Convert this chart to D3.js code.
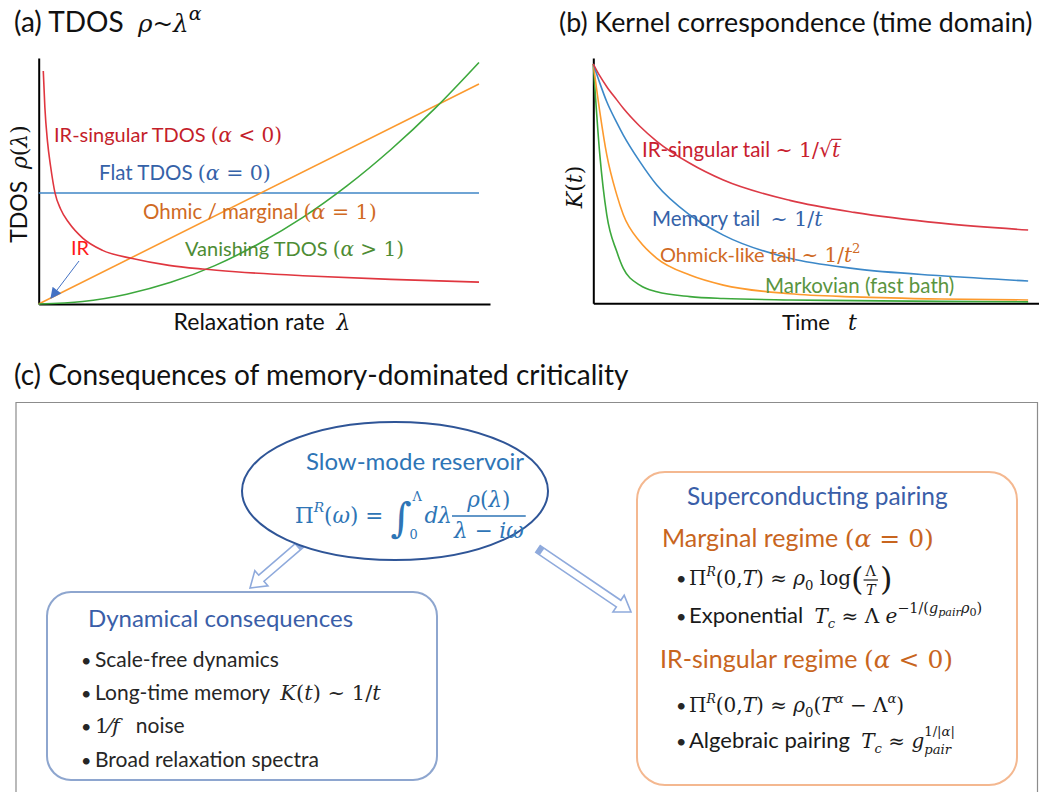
<!DOCTYPE html>
<html lang="en">
<head>
<meta charset="UTF-8">
<title>TDOS and memory-dominated criticality</title>
<script src="https://d3js.org/d3.v7.min.js"></script>
<style>
  html, body { margin: 0; padding: 0; background: #fff; }
  svg { display: block; }
  .axis path { stroke: #000; stroke-width: 2px; }
</style>
</head>
<body>
<svg id="fig" width="1039" height="792"></svg>
<script>
// ---- panel (a): TDOS curves ----
const lambdaIR = [0.0104, 0.014, 0.02, 0.027, 0.037, 0.05, 0.069, 0.1, 0.145, 0.213, 0.296, 0.372, 0.447, 0.6, 0.8, 1.0];
const rhoIR    = [0.947, 0.80, 0.66, 0.56, 0.452, 0.385, 0.329, 0.268, 0.218, 0.185, 0.157, 0.142, 0.131, 0.115, 0.10, 0.089];
const lambdaGrid = [0, 0.1, 0.2, 0.3, 0.4, 0.5, 0.6, 0.7, 0.8, 0.9, 1.0];
const rhoVanishing = [0, 0.01, 0.04, 0.088, 0.156, 0.245, 0.352, 0.48, 0.628, 0.795, 0.982];
const lambdaEnds = [0, 1];
const rhoOhmic = [0, 0.894];
const rhoFlat = [0.451, 0.451];

// ---- panel (b): kernels K(t) ----
const tGrid   = [0, 0.015, 0.031, 0.054, 0.069, 0.107, 0.146, 0.222, 0.299, 0.452, 0.6, 0.8, 1.0];
const kIR     = [1, 0.95, 0.905, 0.85, 0.815, 0.74, 0.677, 0.585, 0.515, 0.43, 0.38, 0.335, 0.306];
const kMemory = [1, 0.92, 0.842, 0.755, 0.703, 0.592, 0.494, 0.369, 0.285, 0.188, 0.145, 0.115, 0.093];
const kOhmic  = [1, 0.80, 0.62, 0.453, 0.37, 0.258, 0.188, 0.118, 0.076, 0.040, 0.027, 0.018, 0.014];
const kMarkov = [1, 0.62, 0.369, 0.216, 0.146, 0.076, 0.048, 0.028, 0.02, 0.014, 0.011, 0.008, 0.006];

// ---- panel (c) text ----
const dynItems = ["Scale-free dynamics", "Long-time memory", "noise", "Broad relaxation spectra"];

const FT = "Lato, 'Open Sans', sans-serif";
const FM = "'DejaVu Serif', 'Liberation Serif', serif";

const svg = d3.select("#fig");

// text pieces: {t, m (serif), i (italic), s (scale), dy, dx, c, ov (overline)}
const T = (t, o = {}) => Object.assign({ t }, o);
const M = (t, o = {}) => Object.assign({ t, m: true }, o);
const I = (t, o = {}) => Object.assign({ t, m: true, i: true }, o);

function layout(g, pieces, size, color) {
  let cx = 0;
  pieces.forEach(p => {
    if (typeof p === "string") p = { t: p };
    if (p.frac) {
      const fs = size * (p.s || 1);
      const gn = g.append("g"), gd = g.append("g");
      const wn = layout(gn, p.frac[0], fs, color);
      const wd = layout(gd, p.frac[1], fs, color);
      const w = Math.max(wn, wd) + 4;
      gn.attr("transform", `translate(${cx + (w - wn) / 2},${p.up})`);
      gd.attr("transform", `translate(${cx + (w - wd) / 2},${p.down})`);
      g.append("line").attr("x1", cx).attr("x2", cx + w)
        .attr("y1", p.bar).attr("y2", p.bar)
        .attr("stroke", color).attr("stroke-width", p.sw || 1.4);
      cx += w + 2;
      return;
    }
    if (p.ss) {
      const fs = size * (p.s || 0.7);
      const gu = g.append("g").attr("transform", `translate(${cx},${p.ss[2]})`);
      const gl = g.append("g").attr("transform", `translate(${cx},${p.ss[3]})`);
      const wu = layout(gu, p.ss[0], fs, color);
      const wl = layout(gl, p.ss[1], fs, color);
      cx += Math.max(wu, wl);
      return;
    }
    const fs = size * (p.s || 1);
    const el = g.append("text")
      .attr("x", cx + (p.dx || 0))
      .attr("y", p.dy || 0)
      .attr("font-family", p.m ? FM : FT)
      .attr("font-style", p.i ? "italic" : "normal")
      .attr("font-size", fs)
      .attr("fill", p.c || color)
      .style("white-space", "pre")
      .text(p.t);
    const w = el.node().getComputedTextLength();
    if (p.ov) {
      g.append("line").attr("x1", cx + (p.dx || 0) - 1).attr("x2", cx + (p.dx || 0) + w + 1)
        .attr("y1", (p.dy || 0) - fs * 0.86).attr("y2", (p.dy || 0) - fs * 0.86)
        .attr("stroke", p.c || color).attr("stroke-width", 1.2);
    }
    cx += (p.adv === 0 ? 0 : w) + (p.dx || 0);
  });
  return cx;
}

function rich(x, y, pieces, size, color, anchor = "start", rot = 0) {
  const g = svg.append("g");
  const inner = g.append("g");
  const w = layout(inner, pieces, size, color);
  const sh = anchor === "middle" ? -w / 2 : anchor === "end" ? -w : 0;
  inner.attr("transform", `translate(${sh},0)`);
  g.attr("transform", `translate(${x},${y}) rotate(${rot})`);
  return w;
}

const sup = (t, o = {}) => Object.assign({ t, m: true, i: true, s: 0.66, dy: -9 }, o);

// =========================== panel (a) ===========================
const xa = d3.scaleLinear().domain([0, 1.025]).range([38.7, 490]);
const ya = d3.scaleLinear().domain([0, 1]).range([304, 58]);

svg.append("g").attr("class", "axis").attr("transform", `translate(0,${ya(0)})`)
  .call(d3.axisBottom(xa).tickValues([]).tickSizeOuter(0));
svg.append("g").attr("class", "axis").attr("transform", `translate(${xa(0)},0)`)
  .call(d3.axisLeft(ya).tickValues([]).tickSizeOuter(0));

const lineA = d3.line().x(d => xa(d[0])).y(d => ya(d[1])).curve(d3.curveMonotoneX);
const seriesA = [
  { xs: lambdaEnds, ys: rhoFlat, c: "#3f86c6" },
  { xs: lambdaEnds, ys: rhoOhmic, c: "#fb9a30" },
  { xs: lambdaGrid, ys: rhoVanishing, c: "#3da83d" },
  { xs: lambdaIR, ys: rhoIR, c: "#e0363f" }
];
seriesA.forEach(s => {
  svg.append("path").datum(d3.zip(s.xs, s.ys))
    .attr("d", lineA).attr("fill", "none")
    .attr("stroke", s.c).attr("stroke-width", 1.6);
});

// IR pointer
svg.append("defs").append("marker").attr("id", "tri")
  .attr("viewBox", "0 0 10 10").attr("refX", 9).attr("refY", 5)
  .attr("markerWidth", 12).attr("markerHeight", 11).attr("markerUnits", "userSpaceOnUse")
  .attr("orient", "auto")
  .append("path").attr("d", "M0,0 L10,5 L0,10 z").attr("fill", "#4472c4");
svg.append("line").attr("x1", 79).attr("y1", 261).attr("x2", 51).attr("y2", 298)
  .attr("stroke", "#4472c4").attr("stroke-width", 1).attr("marker-end", "url(#tri)");
rich(71, 255, [T("IR")], 20, "#ff1a1a");

rich(14, 32, [T("(a) TDOS  "), I("ρ", { s: 0.88 }), M("~", { s: 0.88 }), I("λ", { s: 0.88 }), sup("α", { s: 0.68, dy: -12 })], 28, "#111");
rich(27, 184, [T("TDOS  "), I("ρ", { s: 0.95 }), M("(", { s: 0.95 }), I("λ", { s: 0.95 }), M(")", { s: 0.95 })], 23, "#111", "middle", -90);
rich(262, 330, [T("Relaxation rate  "), I("λ", { s: 0.95 })], 23, "#111", "middle");

rich(54, 142, [T("IR-singular TDOS "), M("("), I("α"), M(" < 0)")], 20, "#c41e2a");
rich(99, 180, [T("Flat TDOS "), M("("), I("α"), M(" = 0)")], 20.5, "#3562a8");
rich(143, 219, [T("Ohmic / marginal "), M("("), I("α"), M(" = 1)")], 20.5, "#d06a24");
rich(185, 256, [T("Vanishing TDOS "), M("("), I("α"), M(" > 1)")], 20, "#4e8c34");

// =========================== panel (b) ===========================
const xb = d3.scaleLinear().domain([0, 1.025]).range([593.3, 1039]);
const yb = d3.scaleLinear().domain([0, 1.025]).range([303.3, 58]);

svg.append("g").attr("class", "axis").attr("transform", `translate(0,${yb(0)})`)
  .call(d3.axisBottom(xb).tickValues([]).tickSizeOuter(0));
svg.append("g").attr("class", "axis").attr("transform", `translate(${xb(0)},0)`)
  .call(d3.axisLeft(yb).tickValues([]).tickSizeOuter(0));

const lineB = d3.line().x(d => xb(d[0])).y(d => yb(d[1])).curve(d3.curveMonotoneX);
[
  { ys: kMarkov, c: "#3ca83c" },
  { ys: kOhmic, c: "#fd9a2e" },
  { ys: kMemory, c: "#3c88c8" },
  { ys: kIR, c: "#dc3a46" }
].forEach(s => {
  svg.append("path").datum(d3.zip(tGrid, s.ys))
    .attr("d", lineB).attr("fill", "none")
    .attr("stroke", s.c).attr("stroke-width", 1.6);
});

rich(559, 32, [T("(b) Kernel correspondence (time domain)")], 26.8, "#111");
rich(582, 187, [I("K"), M("("), I("t"), M(")")], 22, "#111", "middle", -90);
rich(782, 330, [T("Time"), I("t", { dx: 18 })], 22, "#111");

rich(642, 157, [T("IR-singular tail "), M("~ 1/"), M("√"), I("t", { ov: true })], 20.5, "#c8202e");
rich(652, 226, [T("Memory tail  "), M("~ 1/"), I("t")], 20.5, "#3562a8");
rich(660, 262, [T("Ohmick-like tail "), M("~ 1/"), I("t"), M("2", { s: 0.66, dy: -9 })], 20, "#d06a24");
rich(765, 293, [T("Markovian (fast bath)")], 20.5, "#5a9440");

// =========================== panel (c) ===========================
rich(14, 385, [T("(c) Consequences of memory-dominated criticality")], 28, "#111");
svg.append("path").attr("d", "M16,800 V402.5 H1037.5 V800")
  .attr("fill", "none").attr("stroke", "#8c8c8c").attr("stroke-width", 1.2);

// hollow block arrows
function blockArrow(x0, y0, x1, y1) {
  const L = Math.hypot(x1 - x0, y1 - y0), a = Math.atan2(y1 - y0, x1 - x0) * 180 / Math.PI;
  const sw = 4, hw = 10, hl = 15;
  const pts = [[0, -sw], [L - hl, -sw], [L - hl, -hw], [L, 0], [L - hl, hw], [L - hl, sw], [0, sw]];
  const g = svg.append("g").attr("transform", `translate(${x0},${y0}) rotate(${a})`);
  g.append("polygon").attr("points", pts.join(" "))
    .attr("fill", "#fff").attr("stroke", "#8faadc").attr("stroke-width", 1.6);
  g.append("rect").attr("x", 0).attr("y", -sw).attr("width", 5).attr("height", 2 * sw).attr("fill", "#8faadc");
}
blockArrow(301, 544, 250, 588);
blockArrow(538, 549, 631, 612);

// ellipse
svg.append("ellipse").attr("cx", 395).attr("cy", 491).attr("rx", 153).attr("ry", 69)
  .attr("fill", "#fff").attr("stroke", "#2f5597").attr("stroke-width", 2);
rich(415, 470, [T("Slow-mode reservoir")], 24, "#2e75b6", "middle");
rich(295, 523, [
  M("Π"), sup("R", { s: 0.64, dy: -11 }), M("("), I("ω"), M(") = "),
  M("∫", { s: 1.9, dy: 9 }),
  M("Λ", { s: 0.6, dy: -22, dx: 1, adv: 0 }),
  M("0", { s: 0.6, dy: 16, dx: -3 }),
  I("dλ", { dx: 7 }),
  { frac: [[I("ρ"), M("("), I("λ"), M(")")], [I("λ"), M(" − "), I("iω")]], up: -16, down: 15, bar: -7, sw: 1.4 }
], 21.5, "#2e75b6");

// dynamical consequences box
svg.append("rect").attr("x", 47).attr("y", 592).attr("width", 390).attr("height", 188).attr("rx", 24)
  .attr("fill", "#fff").attr("stroke", "#8ea6cf").attr("stroke-width", 2);
rich(88, 627, [T("Dynamical consequences")], 24, "#3a5ea8");
const dynY = [667, 700, 733, 767];
dynY.forEach(y => rich(81, y, [T("•")], 18, "#262626"));
rich(95, dynY[0], [T(dynItems[0])], 21, "#262626");
rich(95, dynY[1], [T(dynItems[1] + "  "), I("K"), M("("), I("t"), M(") ~ 1/"), I("t")], 21, "#262626");
rich(95, dynY[2], [M("1⁄"), I("f"), T("   " + dynItems[2])], 21, "#262626");
rich(95, dynY[3], [T(dynItems[3])], 21, "#262626");

// superconducting pairing box
svg.append("rect").attr("x", 637).attr("y", 472).attr("width", 380).attr("height", 313).attr("rx", 28)
  .attr("fill", "#fff").attr("stroke", "#f4b890").attr("stroke-width", 2);
rich(687, 505, [T("Superconducting pairing")], 24.5, "#3a5ea8");
rich(662, 547, [T("Marginal regime "), M("("), I("α"), M(" = 0)")], 25, "#c8651e");
rich(660, 668, [T("IR-singular regime "), M("("), I("α"), M(" < 0)")], 25, "#c8651e");

const scBul = [585, 623, 712, 748];
scBul.forEach(y => rich(676, y, [T("•")], 18, "#262626"));
const mb = "#1a1a1a";
rich(689, scBul[0], [
  M("Π"), sup("R", { s: 0.62, dy: -9 }), M("(0,"), I("T"), M(") ≈ "), I("ρ"), M("0", { s: 0.66, dy: 5 }),
  M(" log"), M("(", { s: 1.6, dy: 5 }),
  { frac: [[M("Λ", { s: 0.72 })], [I("T", { s: 0.72 })]], up: -9, down: 10, bar: -5, sw: 1.2 },
  M(")", { s: 1.6, dy: 5 })
], 20, mb);
rich(689, scBul[1], [
  T("Exponential  ", { s: 1.1 }), I("T"), I("c", { s: 0.66, dy: 5 }), M(" ≈ Λ "), I("e"),
  M("−1/(", { s: 0.72, dy: -10 }), I("g", { s: 0.72, dy: -10 }), I("pair", { s: 0.56, dy: -7 }),
  I("ρ", { s: 0.72, dy: -10 }), M("0", { s: 0.56, dy: -7 }), M(")", { s: 0.72, dy: -10 })
], 20, mb);
rich(689, scBul[2], [
  M("Π"), sup("R", { s: 0.62, dy: -9 }), M("(0,"), I("T"), M(") ≈ "), I("ρ"), M("0", { s: 0.66, dy: 5 }),
  M("("), I("T"), sup("α", { s: 0.66 }), M(" − Λ"), sup("α", { s: 0.66 }), M(")")
], 20, mb);
rich(689, scBul[3], [
  T("Algebraic pairing  ", { s: 1.1 }), I("T"), I("c", { s: 0.66, dy: 5 }), M(" ≈ "), I("g"),
  { ss: [[M("1/|"), I("α"), M("|")], [I("pair")], -12, 6], s: 0.66 }
], 20, mb);
</script>
</body>
</html>
